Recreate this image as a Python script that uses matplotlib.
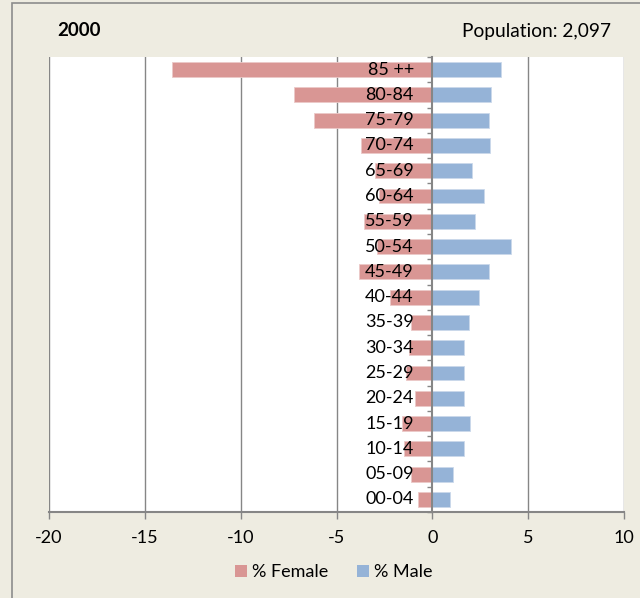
import matplotlib
matplotlib.use("Agg")
import matplotlib.pyplot as plt
from matplotlib.patches import Rectangle, Patch
from matplotlib.transforms import offset_copy
import numpy as np

plt.rcParams['font.family'] = ['Lato', 'DejaVu Sans']

# Age groups, youngest first (bottom of the pyramid)
age_groups = ["00-04", "05-09", "10-14", "15-19", "20-24", "25-29", "30-34",
              "35-39", "40-44", "45-49", "50-54", "55-59", "60-64", "65-69",
              "70-74", "75-79", "80-84", "85 ++"]
# Share of population (%) in each age group
female_pct = [0.75, 1.1, 1.5, 1.6, 0.93, 1.4, 1.22, 1.13, 2.23, 3.85,
              2.9, 3.59, 2.79, 2.98, 3.71, 6.19, 7.2, 13.6]
male_pct = [0.9, 1.08, 1.65, 1.95, 1.65, 1.65, 1.65, 1.9, 2.42, 2.94,
            4.13, 2.23, 2.68, 2.07, 3.01, 2.98, 3.08, 3.57]
x_ticks = [-20, -15, -10, -5, 0, 5, 10]

year_label = "2000"
population_label = "Population: 2,097"

FEMALE = "#D99694"
MALE = "#95B3D7"
BG = "#EEECE1"
AXIS_GRAY = "#868686"
FS = 13

W, H = 640, 598
fig = plt.figure(figsize=(W / 100, H / 100), dpi=100, facecolor=BG)

# chart-area border
fig.patches.append(Rectangle((11.5 / W, -0.1), 1.2, 1.1 - 3.5 / H,
                             transform=fig.transFigure, fill=False,
                             edgecolor="#8C8C8C", linewidth=1.2))

left, right, top, bottom = 49, 624, 57, 512
ax = fig.add_axes([left / W, 1 - bottom / H, (right - left) / W, (bottom - top) / H])
ax.set_facecolor("white")

y = np.arange(len(age_groups))
neg_female = [-v for v in female_pct]
ax.barh(y, neg_female, height=0.59, color=FEMALE, edgecolor="#EBC9C8",
        linewidth=0.6, label="% Female", zorder=2)
ax.barh(y, male_pct, height=0.59, color=MALE, edgecolor="#CBD9EB",
        linewidth=0.6, label="% Male", zorder=2)

ax.set_xlim(x_ticks[0], x_ticks[-1])
ax.set_ylim(-0.5, len(age_groups) - 0.5)

# vertical gridlines
for xv in x_ticks:
    if xv != 0:
        ax.axvline(xv, color=AXIS_GRAY, linewidth=1.0, zorder=0.5)

for s in ["top", "right"]:
    ax.spines[s].set_visible(False)
ax.spines["left"].set_position(("data", 0))
ax.spines["left"].set_color(AXIS_GRAY)
ax.spines["left"].set_linewidth(1.5)
ax.spines["left"].set_zorder(3)
ax.spines["bottom"].set_color(AXIS_GRAY)
ax.spines["bottom"].set_linewidth(1.5)

# category labels sit just left of the zero axis, over the bars
ax.set_yticks([])
ax.set_yticks(np.arange(-0.5, len(age_groups), 1.0), minor=True)
ax.tick_params(axis="y", which="minor", length=3.5, width=1.0,
               color=AXIS_GRAY, direction="out")
label_tf = offset_copy(ax.transData, fig=fig, x=-18.5, y=0, units="dots")
for yi, name in zip(y, age_groups):
    ax.text(0, yi, name, transform=label_tf, ha="right", va="center",
            fontsize=FS, zorder=5)

ax.set_xticks(x_ticks)
ax.set_xticklabels([str(v) for v in x_ticks])
ax.tick_params(axis="x", length=5, width=1.0, color=AXIS_GRAY, pad=8,
               labelsize=FS)

fig.text(57 / W, 1 - 31 / H, year_label, fontsize=13.5, fontweight="bold",
         ha="left", va="center")
fig.text(611 / W, 1 - 32 / H, population_label, fontsize=13.8,
         ha="right", va="center")

handles = [Patch(facecolor=FEMALE, edgecolor="none", label="% Female"),
           Patch(facecolor=MALE, edgecolor="none", label="% Male")]
fig.legend(handles=handles, loc="center", bbox_to_anchor=(334 / W, 1 - 572 / H),
           ncol=2, frameon=False, fontsize=FS, handlelength=0.65,
           handleheight=0.65, handletextpad=0.3, columnspacing=1.6)

fig.savefig("out.png", dpi=100, facecolor=BG)
